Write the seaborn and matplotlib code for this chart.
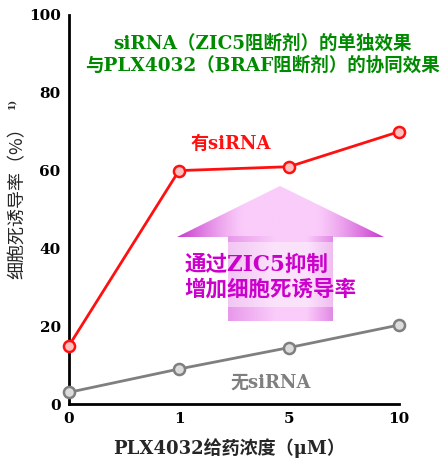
import numpy as np
import pandas as pd
import matplotlib
matplotlib.use("Agg")
import matplotlib.pyplot as plt
import seaborn as sns
from matplotlib.patches import Polygon, Rectangle

doses = ["0", "1", "5", "10"]
with_sirna = [15, 60, 61, 70]
without_sirna = [3, 9, 14.5, 20.3]
yticks = [0, 20, 40, 60, 80, 100]

title = "siRNA（ZIC5阻断剂）的单独效果\n与PLX4032（BRAF阻断剂）的协同效果"
ylab = "细胞死诱导率（%）"
xlab = "PLX4032给药浓度（μM）"
lab_with = "有siRNA"
lab_without = "无siRNA"
arrow_text = "通过ZIC5抑制\n增加细胞死诱导率"

sns.set_theme(style="white")
plt.rcParams['font.family'] = ['DejaVu Serif', 'Noto Sans CJK SC', 'DejaVu Sans']
cjk = ['Noto Sans CJK SC', 'DejaVu Sans']
mix = ['DejaVu Serif', 'Noto Sans CJK SC', 'DejaVu Sans']

df = pd.DataFrame({
    "pos": list(range(len(doses))) * 2,
    "val": with_sirna + without_sirna,
    "grp": [lab_with] * len(doses) + [lab_without] * len(doses),
})

fig = plt.figure(figsize=(4.46, 4.58), dpi=100)
ax = fig.add_axes([69/446, 1-404/458, 330/446, 389/458])

red = "#ff1010"
gray = "#7f7f7f"
for g, c, fc in [(lab_with, red, "#ffc0c0"), (lab_without, gray, "#dcdcdc")]:
    sub = df[df.grp == g]
    sns.lineplot(data=sub, x="pos", y="val", ax=ax, color=c, lw=2,
                 marker="o", markersize=8, markerfacecolor=fc,
                 markeredgecolor=c, markeredgewidth=1.8, clip_on=False, zorder=5)

ax.set_xlim(0, len(doses) - 1)
ax.set_ylim(0, 100)
ax.set_xticks(range(len(doses)))
ax.set_xticklabels(doses)
ax.set_yticks(yticks)
ax.set_yticklabels([str(v) for v in yticks])
for sp in ["top", "right"]:
    ax.spines[sp].set_visible(False)
for sp in ["left", "bottom"]:
    ax.spines[sp].set_color("black")
    ax.spines[sp].set_linewidth(2)
ax.tick_params(axis="x", direction="in", length=3, width=1.5, colors="black",
               labelsize=11, pad=6)
ax.tick_params(axis="y", direction="out", length=2, width=1.5, colors="black",
               labelsize=11, pad=4)
for t in ax.get_xticklabels() + ax.get_yticklabels():
    t.set_fontweight("bold")
    t.set_family(mix)
ax.set_xlabel("")
ax.set_ylabel("")

# axis labels
fig.text(229/446, 1-448/458, xlab, ha="center", va="center", fontsize=13,
         family=mix, fontweight="bold")
fig.text(18/446, 1-199/458, ylab, ha="center", va="center", rotation=90,
         fontsize=13, family=cjk, fontweight="medium")
fig.text(12/446, 1-103/458, "1)", ha="center", va="center", rotation=90,
         fontsize=7, family=mix, fontweight="bold")

# title
ax.text(0.587, 0.897, title, transform=ax.transAxes, ha="center", va="center",
        fontsize=13.3, color="#008a00", fontweight="bold", family=mix,
        linespacing=1.25)

# series labels
ax.text(0.49, 0.668, lab_with, transform=ax.transAxes, ha="center", va="center",
        fontsize=13, color=red, family=mix, fontweight="bold")
ax.text(0.61, 0.056, lab_without, transform=ax.transAxes, ha="center", va="center",
        fontsize=13, color=gray, family=mix, fontweight="bold")

# gradient arrow
def ax_pt(px, py):
    return ((px - 69) / 330, (404 - py) / 389)

head = [ax_pt(177, 237), ax_pt(280, 186), ax_pt(384, 237)]
shaft_l, shaft_r, shaft_t, shaft_b = 228, 333, 237, 321
x0, y0 = ax_pt(177, 321)
x1, y1 = ax_pt(384, 186)
n = 300
t = np.linspace(0, 1, n)
d = np.abs(t - 0.5) * 2
w = np.clip((d - 0.35) / 0.65, 0, 1) ** 1.3
edge = np.array([0.78, 0.22, 0.80])
center = np.array([0.98, 0.80, 0.98])
cols = center[None, :] * (1 - w[:, None]) + edge[None, :] * w[:, None]
img = np.tile(cols[None, :, :], (2, 1, 1))
im_head = ax.imshow(img, extent=[x0, x1, y0, y1], transform=ax.transAxes,
                    aspect="auto", zorder=2, interpolation="bilinear")
hp = Polygon(head, closed=True, transform=ax.transAxes, facecolor="none",
             edgecolor="none")
ax.add_patch(hp)
im_head.set_clip_path(hp)

sx0, sy0 = ax_pt(shaft_l, shaft_b)
sx1, sy1 = ax_pt(shaft_r, shaft_t)
ts = np.linspace(0, 1, n)
ws = np.clip(1 - ts / 0.45, 0, 1) * 0.35 + np.clip((ts - 0.75) / 0.25, 0, 1) * 0.45
cols2 = center[None, :] * (1 - ws[:, None]) + edge[None, :] * ws[:, None]
img2 = np.tile(cols2[None, :, :], (2, 1, 1))
ax.imshow(img2, extent=[sx0, sx1, sy0, sy1], transform=ax.transAxes,
          aspect="auto", zorder=2, interpolation="bilinear")
bx0, by0 = ax_pt(228, 307)
bx1, by1 = ax_pt(333, 242)
ax.add_patch(Rectangle((bx0, by0), bx1 - bx0, by1 - by0, transform=ax.transAxes,
                       facecolor="white", alpha=0.45, edgecolor="none", zorder=3))
ax.set_xlim(0, len(doses) - 1)
ax.set_ylim(0, 100)

tx, ty = ax_pt(184, 277)
ax.text(tx, ty, arrow_text, transform=ax.transAxes, ha="left", va="center",
        fontsize=15.5, color="#cc00cc", fontweight="bold", family=mix,
        linespacing=1.15, zorder=6)

fig.savefig("out.png", dpi=100)
